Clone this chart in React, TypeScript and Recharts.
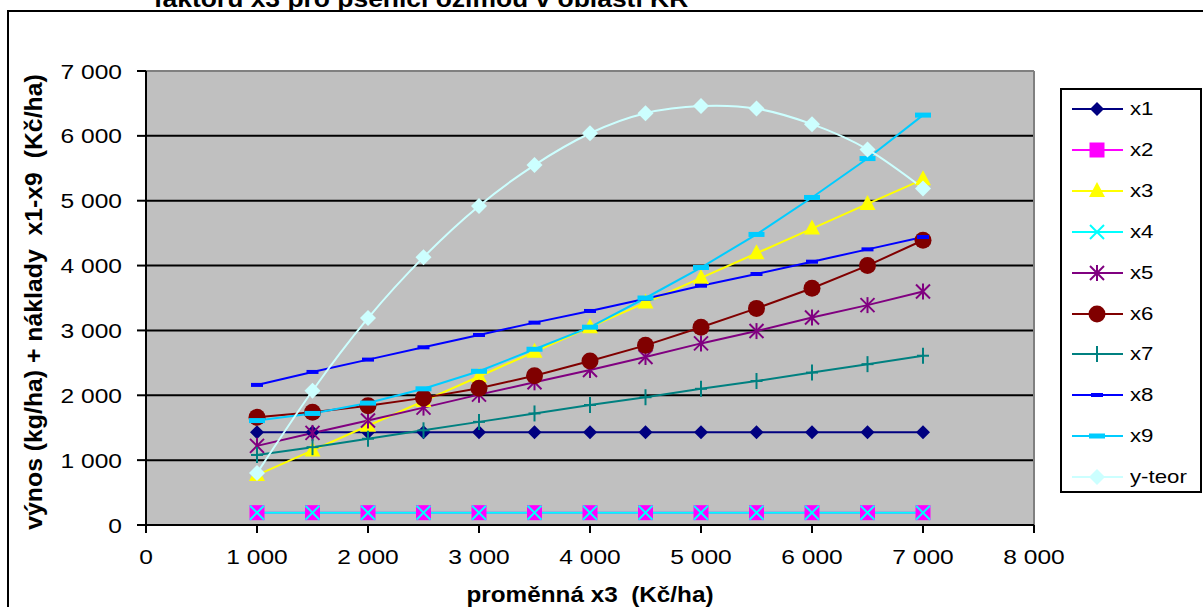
import React from 'react';
import { LineChart, Line, XAxis, YAxis, CartesianGrid, ReferenceLine, Label } from 'recharts';

const FONT = '"Liberation Sans", Arial, sans-serif';

// x axis: proměnná x3 (Kč/ha)
const X3 = [1000, 1500, 2000, 2500, 3000, 3500, 4000, 4500, 5000, 5500, 6000, 6500, 7000];

const X1 = [1430, 1430, 1430, 1430, 1430, 1430, 1430, 1430, 1430, 1430, 1430, 1430, 1430];
const X2 = [190, 190, 190, 190, 190, 190, 190, 190, 190, 190, 190, 190, 190];
const X3V = [770, 1150, 1530, 1910, 2290, 2670, 3050, 3430, 3810, 4190, 4570, 4950, 5330];
const X4 = [190, 190, 190, 190, 190, 190, 190, 190, 190, 190, 190, 190, 190];
const X5 = [1220, 1420, 1610, 1810, 2010, 2200, 2390, 2590, 2800, 2990, 3200, 3390, 3600];
const X6 = [1660, 1740, 1840, 1960, 2110, 2300, 2530, 2770, 3050, 3340, 3650, 4000, 4390];
const X7 = [1080, 1200, 1330, 1460, 1590, 1720, 1850, 1970, 2100, 2220, 2350, 2480, 2610];
const X8 = [2160, 2360, 2550, 2740, 2930, 3120, 3300, 3490, 3690, 3870, 4060, 4250, 4440];
const X9 = [1610, 1720, 1880, 2100, 2370, 2710, 3050, 3500, 3970, 4480, 5050, 5650, 6320];
const YTEOR = [800, 2070, 3190, 4130, 4920, 5550, 6040, 6350, 6460, 6420, 6180, 5790, 5190];

const Y_TICKS = [0, 1000, 2000, 3000, 4000, 5000, 6000, 7000];
const X_TICKS = [0, 1000, 2000, 3000, 4000, 5000, 6000, 7000, 8000];

const SERIES = [
  { key: 'x1', name: 'x1', values: X1, color: '#000080', shape: 'diamond' },
  { key: 'x2', name: 'x2', values: X2, color: '#FF00FF', shape: 'square' },
  { key: 'x3', name: 'x3', values: X3V, color: '#FFFF00', shape: 'triangle' },
  { key: 'x4', name: 'x4', values: X4, color: '#00FFFF', shape: 'cross' },
  { key: 'x5', name: 'x5', values: X5, color: '#800080', shape: 'star' },
  { key: 'x6', name: 'x6', values: X6, color: '#800000', shape: 'circle' },
  { key: 'x7', name: 'x7', values: X7, color: '#008080', shape: 'plus' },
  { key: 'x8', name: 'x8', values: X8, color: '#0000FF', shape: 'dash' },
  { key: 'x9', name: 'x9', values: X9, color: '#00CCFF', shape: 'bar' },
  { key: 'yteor', name: 'y-teor', values: YTEOR, color: '#CCFFFF', shape: 'bigdiamond' },
];

const rows = X3.map((x, i) => {
  const r: any = { x };
  SERIES.forEach((s) => { r[s.key] = s.values[i]; });
  return r;
});

const fmt = (v: number) =>
  v >= 1000 ? `${Math.floor(v / 1000)} ${String(v % 1000).padStart(3, '0')}` : String(v);

const Marker = ({ cx, cy, shape, color }: any) => {
  switch (shape) {
    case 'diamond':
      return <polygon points={`${cx},${cy - 7} ${cx + 7},${cy} ${cx},${cy + 7} ${cx - 7},${cy}`} fill={color} />;
    case 'bigdiamond':
      return <polygon points={`${cx},${cy - 8} ${cx + 8},${cy} ${cx},${cy + 8} ${cx - 8},${cy}`} fill={color} />;
    case 'square':
      return <rect x={cx - 7.5} y={cy - 7.5} width={15} height={15} fill={color} />;
    case 'triangle':
      return <polygon points={`${cx},${cy - 9} ${cx + 8},${cy + 6} ${cx - 8},${cy + 6}`} fill={color} />;
    case 'cross':
      return (
        <g stroke={color} strokeWidth={2}>
          <line x1={cx - 7} y1={cy - 7} x2={cx + 7} y2={cy + 7} />
          <line x1={cx - 7} y1={cy + 7} x2={cx + 7} y2={cy - 7} />
        </g>
      );
    case 'star':
      return (
        <g stroke={color} strokeWidth={2}>
          <line x1={cx - 7} y1={cy - 7} x2={cx + 7} y2={cy + 7} />
          <line x1={cx - 7} y1={cy + 7} x2={cx + 7} y2={cy - 7} />
          <line x1={cx} y1={cy - 8} x2={cx} y2={cy + 8} />
        </g>
      );
    case 'circle':
      return <circle cx={cx} cy={cy} r={8.5} fill={color} />;
    case 'plus':
      return (
        <g stroke={color} strokeWidth={2}>
          <line x1={cx} y1={cy - 8} x2={cx} y2={cy + 8} />
          <line x1={cx - 6} y1={cy} x2={cx + 6} y2={cy} />
        </g>
      );
    case 'dash':
      return <rect x={cx - 6} y={cy - 2} width={12} height={4} fill={color} />;
    case 'bar':
      return <rect x={cx - 8} y={cy - 2.5} width={16} height={5} fill={color} />;
    default:
      return null;
  }
};

const makeDot = (s: any) => (p: any) => (
  <Marker key={`${s.key}-${p.index}`} cx={p.cx} cy={p.cy} shape={s.shape} color={s.color} />
);

const YTick = ({ x, y, payload }: any) => (
  <text transform={`translate(${x},${y}) scale(1.17,1)`} textAnchor="end" dy="0.36em" fontSize={21} fill="#000" fontFamily={FONT}>
    {fmt(payload.value)}
  </text>
);

const XTick = ({ x, y, payload }: any) => (
  <text transform={`translate(${x},${y}) scale(1.17,1)`} textAnchor="middle" dy="0.72em" fontSize={21} fill="#000" fontFamily={FONT}>
    {fmt(payload.value)}
  </text>
);

const XTitle = ({ viewBox }: any) => {
  const cx = viewBox.x + viewBox.width / 2;
  return (
    <text transform={`translate(${cx},${viewBox.y + 77}) scale(1.13,1)`} textAnchor="middle" fontSize={21.5} fontWeight="bold" fill="#000" fontFamily={FONT} style={{ whiteSpace: 'pre' }}>
      {'proměnná x3  (Kč/ha)'}
    </text>
  );
};

const YTitle = ({ viewBox }: any) => {
  const cy = viewBox.y + viewBox.height / 2 + 4;
  const cx = 33;
  return (
    <text transform={`translate(${cx},${cy}) rotate(-90)`} textAnchor="middle" dy="0.35em" fontSize={24.8} fontWeight="bold" fill="#000" fontFamily={FONT} style={{ whiteSpace: 'pre' }}>
      {'výnos (kg/ha) + náklady  x1-x9  (Kč/ha)'}
    </text>
  );
};

export default function App() {
  return (
    <div style={{ position: 'relative', width: 1203, height: 607, overflow: 'hidden', background: '#fff', fontFamily: FONT }}>
      <style>{'html,body{margin:0;padding:0;overflow:hidden;}'}</style>
      <div style={{ position: 'absolute', left: 7, top: 10, width: 1300, height: 700, border: '2px solid #000' }} />
      <div style={{ position: 'absolute', left: 0, top: 0 }}>
        <LineChart width={1203} height={607} data={rows} margin={{ top: 71, right: 169, bottom: 22, left: 46 }}>
          <text transform="translate(421,7) scale(1.15,1)" textAnchor="middle" fontSize={23} fontWeight="bold" fill="#000" fontFamily={FONT}>
            faktoru x3 pro pšenici ozimou v oblasti KR
          </text>
          <CartesianGrid fill="#C0C0C0" stroke="#000" strokeWidth={2} vertical={false} />
          <ReferenceLine y={7000} stroke="#808080" strokeWidth={2} />
          <ReferenceLine x={8000} stroke="#808080" strokeWidth={2} />
          <XAxis
            dataKey="x"
            type="number"
            domain={[0, 8000]}
            ticks={X_TICKS}
            height={60}
            tickSize={8}
            tickMargin={16}
            tick={<XTick />}
            axisLine={{ stroke: '#000', strokeWidth: 2 }}
            tickLine={{ stroke: '#000', strokeWidth: 2 }}
          >
            <Label content={<XTitle />} />
          </XAxis>
          <YAxis
            type="number"
            domain={[0, 7000]}
            ticks={Y_TICKS}
            width={100}
            tickSize={9}
            tickMargin={15}
            tick={<YTick />}
            axisLine={{ stroke: '#000', strokeWidth: 2 }}
            tickLine={{ stroke: '#000', strokeWidth: 2 }}
          >
            <Label content={<YTitle />} />
          </YAxis>
          {SERIES.map((s) => (
            <Line
              key={s.key}
              dataKey={s.key}
              name={s.name}
              type={s.key === 'yteor' ? 'natural' : 'linear'}
              stroke={s.color}
              strokeWidth={2}
              dot={makeDot(s)}
              activeDot={false}
              isAnimationActive={false}
            />
          ))}
        </LineChart>
      </div>
      <div style={{ position: 'absolute', left: 1060, top: 88, width: 138, height: 401, border: '2px solid #000', background: '#fff' }}>
        {SERIES.map((s, i) => (
          <div key={s.key} style={{ position: 'absolute', left: 0, top: 7 + i * 40.9, height: 24, display: 'flex', alignItems: 'center' }}>
            <svg width={66} height={24}>
              <line x1={10} y1={12} x2={61} y2={12} stroke={s.color} strokeWidth={2} />
              <Marker cx={35} cy={12} shape={s.shape} color={s.color} />
            </svg>
            <span style={{ display: 'inline-block', fontSize: 19, transform: 'scaleX(1.17)', transformOrigin: 'left center', marginLeft: 2, whiteSpace: 'nowrap' }}>
              {s.name}
            </span>
          </div>
        ))}
      </div>
    </div>
  );
}
